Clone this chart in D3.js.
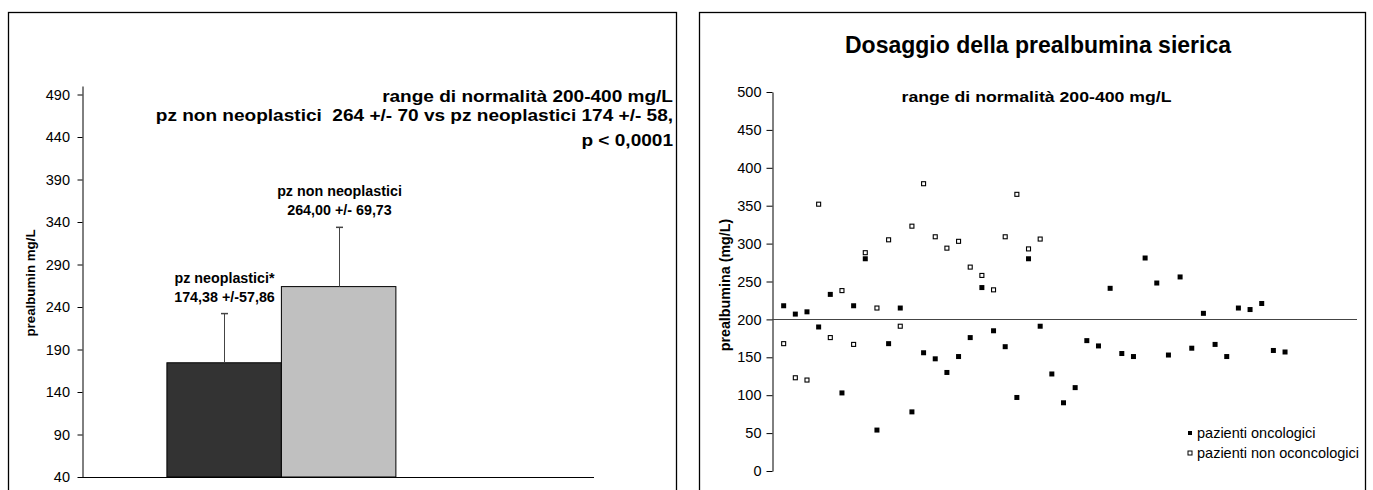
<!DOCTYPE html>
<html>
<head>
<meta charset="utf-8">
<script src="https://cdn.jsdelivr.net/npm/d3@7"></script>
<style>
  body { margin: 0; background: #fff; }
  svg { display: block; font-family: "Liberation Sans", Arial, sans-serif; }
</style>
</head>
<body>
<div id="charts"></div>
<script>
// Global Variables :
var width = 1373,
    height = 490;

// left chart : mean +/- sd
var groups = ["pz neoplastici", "pz non neoplastici"];
var groupMeans = [174.38, 264.00];
var groupSd = [57.86, 69.73];
var groupColors = ["#333333", "#c0c0c0"];
var groupLabels = [["pz neoplastici*", "174,38 +/-57,86"],
                   ["pz non neoplastici", "264,00 +/- 69,73"]];
var leftTicks = [40, 90, 140, 190, 240, 290, 340, 390, 440, 490];
var leftNotes = ["range di normalità 200-400 mg/L",
                 "pz non neoplastici  264 +/- 70 vs pz neoplastici 174 +/- 58,",
                 "p < 0,0001"];

// right chart : single patients
var oncologici = [218, 207, 210, 190, 233, 103, 218, 280, 54, 168,
                  215, 78, 156, 148, 130, 151, 176, 242, 185, 164,
                  97, 280, 191, 128, 90, 110, 172, 165, 241, 155,
                  151, 281, 248, 153, 256, 162, 208, 167, 151, 215,
                  213, 221, 159, 157];
var nonOncologici = [168, 123, 120, 352, 176, 238, 167, 288, 215, 305,
                     191, 323, 379, 309, 294, 303, 269, 258, 239, 309,
                     365, 293, 306];
var rightTicks = [0, 50, 100, 150, 200, 250, 300, 350, 400, 450, 500];
var legendNames = ["pazienti oncologici", "pazienti non oconcologici"];

var svg = d3.select("#charts").append("svg")
  .attr("width", width)
  .attr("height", height);

svg.append("rect").attr("width", width).attr("height", height).attr("fill", "#fff");

// panel frames
svg.append("rect").attr("x", 8.5).attr("y", 12.5).attr("width", 668).attr("height", 500)
  .attr("fill", "none").attr("stroke", "#000").attr("stroke-width", 1.3);
svg.append("rect").attr("x", 699.5).attr("y", 12.5).attr("width", 666).attr("height", 500)
  .attr("fill", "none").attr("stroke", "#000").attr("stroke-width", 1.3);

// ---------------- Left chart ----------------
var yL = d3.scaleLinear().domain([40, 500]).range([477, 86]);
var xL = d3.scaleBand().domain(groups).range([82, 594])
  .paddingInner(0).paddingOuter(1.236).align(0.3);

var gL = svg.append("g");

var axisL = gL.append("g")
  .attr("transform", "translate(82.5,0)")
  .call(d3.axisLeft(yL).tickValues(leftTicks).tickSize(5).tickSizeOuter(0).tickPadding(7.5));
axisL.selectAll("text").style("font-size", "14.5px").attr("fill", "#000");
axisL.selectAll("line, path").attr("stroke", "#000");

gL.append("line")
  .attr("x1", 82).attr("x2", 594)
  .attr("y1", 477.5).attr("y2", 477.5)
  .attr("stroke", "#000");

gL.selectAll("rect.bar")
  .data(groups).enter()
  .append("rect")
  .attr("class", "bar")
  .attr("x", function (d) { return xL(d); })
  .attr("width", xL.bandwidth())
  .attr("y", function (d, i) { return yL(groupMeans[i]); })
  .attr("height", function (d, i) { return yL(40) - yL(groupMeans[i]); })
  .attr("fill", function (d, i) { return groupColors[i]; })
  .attr("stroke", "#000")
  .attr("stroke-width", 1);

// error bars (upper only)
groups.forEach(function (d, i) {
  var cx = Math.round(xL(d) + xL.bandwidth() / 2) + 0.5;
  var top = yL(groupMeans[i] + groupSd[i]);
  gL.append("line")
    .attr("x1", cx).attr("x2", cx)
    .attr("y1", yL(groupMeans[i])).attr("y2", top)
    .attr("stroke", "#444").attr("stroke-width", 1);
  gL.append("line")
    .attr("x1", cx - 3.5).attr("x2", cx + 3.5)
    .attr("y1", top).attr("y2", top)
    .attr("stroke", "#444").attr("stroke-width", 1.5);

  gL.selectAll("text.lab" + i)
    .data(groupLabels[i]).enter()
    .append("text")
    .attr("x", cx)
    .attr("y", function (t, k) { return top - 12 - (1 - k) * 19; })
    .attr("text-anchor", "middle")
    .style("font-size", "14.3px")
    .style("font-weight", "bold")
    .text(function (t) { return t; });
});

// y label
gL.append("text")
  .attr("transform", "translate(35,283) rotate(-90)")
  .attr("text-anchor", "middle")
  .style("font-size", "13.3px")
  .style("font-weight", "bold")
  .text("prealbumin mg/L");

// notes in the upper right corner (wide lettering)
var noteY = [102, 121, 146];
gL.selectAll("text.note")
  .data(leftNotes).enter()
  .append("text")
  .attr("class", "note")
  .attr("transform", function (d, i) { return "translate(673," + noteY[i] + ") scale(1.19,1)"; })
  .attr("text-anchor", "end")
  .style("white-space", "pre")
  .style("font-size", "16px")
  .style("font-weight", "bold")
  .text(function (d) { return d; });

// ---------------- Right chart ----------------
var yR = d3.scaleLinear().domain([0, 500]).range([471, 92]);
var xR = d3.scaleLinear().domain([0, 50]).range([772, 1355]);

var gR = svg.append("g");

gR.append("text")
  .attr("x", 1038).attr("y", 53)
  .attr("text-anchor", "middle")
  .style("font-size", "23px")
  .style("font-weight", "bold")
  .text("Dosaggio della prealbumina sierica");

gR.append("text")
  .attr("transform", "translate(1036.5,102) scale(1.14,1)")
  .attr("text-anchor", "middle")
  .style("font-size", "15.5px")
  .style("font-weight", "bold")
  .text("range di normalità 200-400 mg/L");

var axisR = gR.append("g")
  .attr("transform", "translate(772.5,0)")
  .call(d3.axisLeft(yR).tickValues(rightTicks).tickSize(6).tickSizeOuter(0).tickPadding(5));
axisR.selectAll("text").style("font-size", "14.5px").attr("fill", "#000");
axisR.selectAll("line, path").attr("stroke", "#000");

// category axis crossing at 200
gR.append("line")
  .attr("x1", 772).attr("x2", xR(50) + 2)
  .attr("y1", Math.round(yR(200)) + 0.5).attr("y2", Math.round(yR(200)) + 0.5)
  .attr("stroke", "#444").attr("stroke-width", 1.2);

gR.append("text")
  .attr("transform", "translate(730,285) rotate(-90)")
  .attr("text-anchor", "middle")
  .style("font-size", "14.3px")
  .style("font-weight", "bold")
  .text("prealbumina (mg/L)");

gR.selectAll("rect.onc")
  .data(oncologici).enter()
  .append("rect")
  .attr("class", "onc")
  .attr("x", function (d, i) { return xR(i + 1) - 2.5; })
  .attr("y", function (d) { return yR(d) - 2.5; })
  .attr("width", 5).attr("height", 5)
  .attr("fill", "#000");

gR.selectAll("rect.non")
  .data(nonOncologici).enter()
  .append("rect")
  .attr("class", "non")
  .attr("x", function (d, i) { return xR(i + 1) - 2; })
  .attr("y", function (d) { return yR(d) - 2; })
  .attr("width", 4).attr("height", 4)
  .attr("fill", "#fff")
  .attr("stroke", "#000")
  .attr("stroke-width", 1.1);

// legend
var legend = gR.selectAll("g.leg")
  .data(legendNames).enter()
  .append("g")
  .attr("transform", function (d, i) { return "translate(1190," + (433 + i * 20) + ")"; });

legend.append("rect")
  .attr("x", -2).attr("y", -2)
  .attr("width", 4).attr("height", 4)
  .attr("fill", function (d, i) { return i == 0 ? "#000" : "#fff"; })
  .attr("stroke", "#000")
  .attr("stroke-width", function (d, i) { return i == 0 ? 0 : 1; });

legend.append("text")
  .attr("x", 7).attr("y", 5)
  .style("font-size", "14.5px")
  .text(function (d) { return d; });
</script>
</body>
</html>
